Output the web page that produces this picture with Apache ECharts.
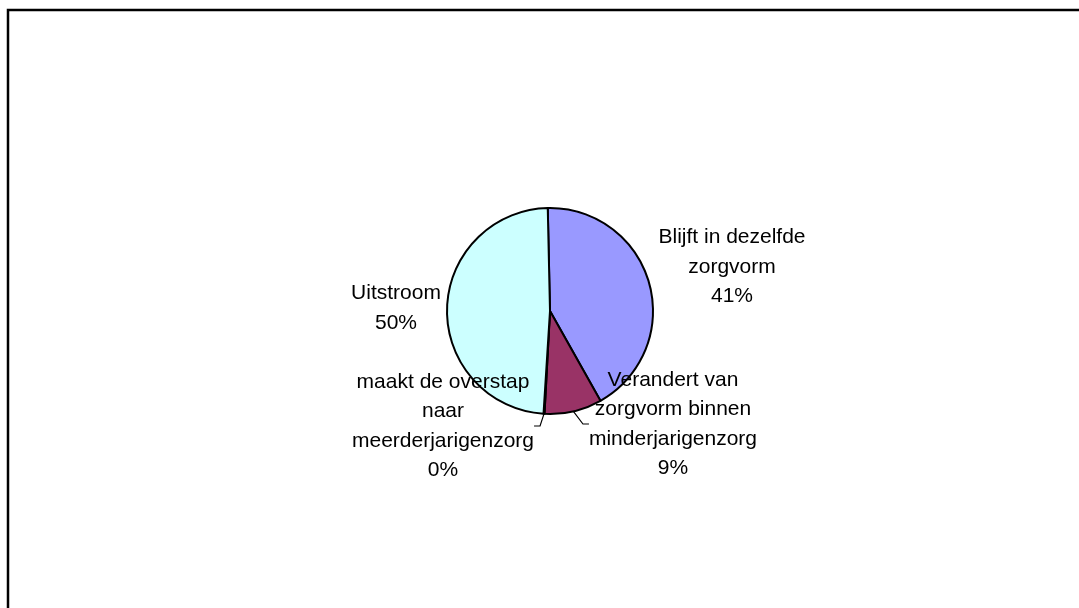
<!DOCTYPE html>
<html>
<head>
<meta charset="utf-8">
<script src="https://cdn.jsdelivr.net/npm/echarts@6/dist/echarts.min.js"></script>
<style>
html,body{margin:0;padding:0;background:#fff;}
#chart{width:1079px;height:608px;}
</style>
</head>
<body>
<div id="chart"></div>
<script>
// Categories (line breaks as in the picture)
var categories = [
  'Blijft in dezelfde\nzorgvorm',
  'Verandert van\nzorgvorm binnen\nminderjarigenzorg',
  'maakt de overstap\nnaar\nmeerderjarigenzorg',
  'Uitstroom'
];
// Slice shares
var values = [42.2, 9.0, 0.15, 48.65];
// Percent labels as printed in the picture
var percentLabels = ['41%', '9%', '0%', '50%'];
var colors = ['#9999FF', '#993366', '#FFFFCC', '#CCFFFF'];

// label block centres (layout only)
var labelPos = [[732, 267], [673, 424], [443, 426], [396, 308]];

var chart = echarts.init(document.getElementById('chart'), null, {renderer: 'canvas'});
var data = categories.map(function (c, i) {
  return {
    name: c,
    value: values[i],
    itemStyle: {color: colors[i]},
    labelLine: {show: i === 1 || i === 2}
  };
});

chart.setOption({
  animation: false,
  backgroundColor: '#ffffff',
  graphic: [{
    type: 'rect',
    shape: {x: 8, y: 10, width: 1200, height: 800},
    style: {fill: 'none', stroke: '#000', lineWidth: 2.5},
    silent: true
  }],
  series: [{
    type: 'pie',
    center: [550, 311],
    radius: [0, 103],
    startAngle: 91.25,
    clockwise: true,
    avoidLabelOverlap: false,
    itemStyle: {borderColor: '#000', borderWidth: 2},
    label: {
      show: true,
      position: 'outside',
      color: '#000',
      fontFamily: 'Liberation Sans, Arial, sans-serif',
      fontSize: 21,
      lineHeight: 29.5,
      align: 'center',
      formatter: function (p) {
        return p.name + '\n' + percentLabels[p.dataIndex];
      }
    },
    labelLine: {
      show: true,
      length: 5,
      length2: 6,
      lineStyle: {color: '#000', width: 1.2}
    },
    labelLayout: function (p) {
      var pos = labelPos[p.dataIndex];
      return {
        x: pos[0],
        y: pos[1],
        align: 'center',
        verticalAlign: 'middle',
        moveOverlap: false
      };
    },
    data: data
  }]
});
</script>
</body>
</html>
